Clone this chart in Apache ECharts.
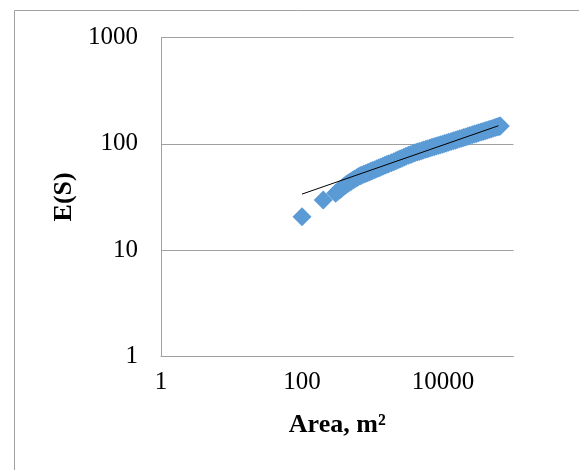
<!DOCTYPE html>
<html>
<head>
<meta charset="utf-8">
<script src="https://cdn.jsdelivr.net/npm/echarts@6/dist/echarts.min.js"></script>
<style>
html,body{margin:0;padding:0;background:#fff;}
#c{width:579px;height:470px;}
</style>
</head>
<body>
<div id="c"></div>
<script>
// Data
var areaValues = [100, 200, 300, 325, 350, 375, 400, 425, 450, 475, 500, 530, 560, 600, 630, 670, 700, 750, 800, 850, 900, 950, 1000, 1075, 1150, 1225, 1300, 1400, 1500, 1600, 1700, 1850, 2000, 2150, 2300, 2450, 2600, 2800, 3000, 3250, 3500, 3750, 4000, 4300, 4600, 4950, 5300, 5700, 6100, 6550, 7000, 7500, 8000, 8600, 9200, 9850, 10500, 11200, 12000, 13000, 14000, 15000, 16000, 17200, 18500, 19700, 21000, 22500, 24000, 26000, 28000, 30000, 32000, 34500, 37000, 39500, 42000, 45000, 48000, 51500, 55000, 58000, 61000, 63000, 65000];
var esValues = [20.6, 29.5, 34.2, 35.8, 37.2, 38.7, 40.1, 41.3, 42.5, 43.5, 44.5, 45.6, 46.6, 47.9, 48.9, 49.9, 50.6, 51.6, 52.5, 53.4, 54.3, 55.1, 56.0, 57.1, 58.2, 59.2, 60.2, 61.5, 62.7, 63.8, 64.9, 66.4, 67.9, 69.3, 70.6, 71.9, 73.1, 74.6, 76.1, 77.8, 79.4, 80.8, 82.2, 83.5, 84.7, 86.0, 87.3, 88.6, 89.9, 91.2, 92.5, 93.8, 95.1, 96.4, 97.7, 99.1, 100.5, 101.9, 103.3, 105.0, 106.7, 108.2, 109.6, 111.3, 113.0, 114.6, 116.1, 117.8, 119.4, 121.4, 123.3, 125.1, 126.8, 128.7, 130.6, 132.5, 134.3, 136.2, 138.0, 140.0, 141.9, 143.6, 145.2, 146.1, 146.9];
var trendX = [100, 61000];
var trendY = [33.6, 147.7];
var xTickLabels = [1, 100, 10000];
var yTickLabels = [1, 10, 100, 1000];

var scatterData = areaValues.map(function (a, i) { return [a, esValues[i]]; });
var trendData = trendX.map(function (a, i) { return [a, trendY[i]]; });

var chart = echarts.init(document.getElementById('c'), null, {renderer: 'canvas'});
var gray = '#A0A0A0';
var serif = '"Liberation Serif", "Times New Roman", serif';

chart.setOption({
  animation: false,
  backgroundColor: '#fff',
  graphic: [{
    type: 'rect',
    left: 12, top: 8,
    shape: {x: 0, y: 0, width: 800, height: 700},
    style: {fill: 'none', stroke: gray, lineWidth: 1},
    silent: true
  }],
  grid: {left: 161, right: 65.5, top: 37.5, bottom: 113.7, containLabel: false},
  xAxis: {
    type: 'log', logBase: 10, min: 1, max: 100000, interval: 2,
    name: 'Area, m²', nameLocation: 'middle', nameGap: 56,
    nameTextStyle: {fontFamily: serif, fontSize: 26, fontWeight: 'bold', color: '#000'},
    axisLine: {show: true, lineStyle: {color: gray, width: 1}},
    axisTick: {show: false},
    splitLine: {show: false},
    axisLabel: {
      fontFamily: serif, fontSize: 25, color: '#000', margin: 14,
      showMaxLabel: false,
      formatter: function (v) { return xTickLabels.indexOf(Math.round(v)) >= 0 ? String(Math.round(v)) : ''; }
    }
  },
  yAxis: {
    type: 'log', logBase: 10, min: 1, max: 1000, interval: 1,
    name: 'E(S)', nameLocation: 'middle', nameGap: 83, nameRotate: 90,
    nameTextStyle: {fontFamily: serif, fontSize: 26, fontWeight: 'bold', color: '#000'},
    axisLine: {show: true, lineStyle: {color: gray, width: 1}},
    axisTick: {show: false},
    splitLine: {show: true, lineStyle: {color: gray, width: 1}},
    axisLabel: {
      fontFamily: serif, fontSize: 25, color: '#000', margin: 23,
      formatter: function (v) { return yTickLabels.indexOf(Math.round(v)) >= 0 ? String(Math.round(v)) : ''; }
    }
  },
  series: [{
    type: 'scatter',
    data: scatterData,
    symbol: 'diamond',
    symbolSize: 19,
    itemStyle: {color: '#5B9BD5', opacity: 1},
    z: 2
  }, {
    type: 'line',
    data: trendData,
    showSymbol: false,
    symbol: 'none',
    lineStyle: {color: '#000', width: 1},
    z: 3
  }]
});
</script>
</body>
</html>
